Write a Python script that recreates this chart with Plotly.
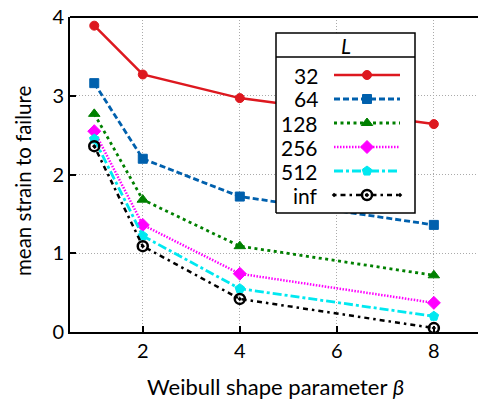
import plotly.graph_objects as go

beta = [1, 2, 4, 8]
series_names = ["32", "64", "128", "256", "512", "inf"]
v32 = [3.89, 3.27, 2.97, 2.64]
v64 = [3.16, 2.20, 1.72, 1.36]
v128 = [2.77, 1.68, 1.09, 0.72]
v256 = [2.55, 1.36, 0.74, 0.37]
v512 = [2.45, 1.22, 0.55, 0.20]
vinf = [2.36, 1.09, 0.42, 0.05]
values = [v32, v64, v128, v256, v512, vinf]
x_ticks = [2, 4, 6, 8]
y_ticks = [0, 1, 2, 3, 4]

FONT = "Lato, 'DejaVu Sans', sans-serif"
W, H = 478, 400
L, R, T, B = 70, 0, 17, 68
PW, PH = W - L - R, H - T - B

styles = [
    dict(color="#dd181f", dash="solid", symbol="circle", size=9, width=2.5),
    dict(color="#0060ad", dash="6px,3px", symbol="square", size=9, width=2.8),
    dict(color="#008000", dash="3px,3.5px", symbol="triangle-up", size=10, width=2.8),
    dict(color="#ff00ff", dash="1.5px,1.5px", symbol="diamond", size=10, width=2.5),
    dict(color="#00e8f0", dash="9px,3px,3px,3px", symbol="pentagon", size=10, width=2.8),
    dict(color="#000000", dash="2.5px,4px,5px,4px", symbol="circle-open-dot", size=10, width=2.5),
]

def px(x):
    return (x - L) / PW

def py(y):
    return (H - B - y) / PH

def marker_for(st, size):
    mk = dict(symbol=st["symbol"], size=size, color=st["color"], opacity=1)
    if st["symbol"] == "circle-open-dot":
        mk["line"] = dict(width=2.5, color=st["color"])
    else:
        mk["line"] = dict(width=1, color=st["color"])
    return mk

fig = go.Figure()
for name, vals, st in zip(series_names, values, styles):
    fig.add_trace(go.Scatter(
        x=beta, y=vals, mode="lines+markers", name=name,
        line=dict(color=st["color"], dash=st["dash"], width=st["width"]),
        marker=marker_for(st, st["size"]), showlegend=False))

# legend box on overlay axes
bx0, bx1, by0, by1 = px(276), px(415), py(213), py(33)
fig.add_trace(go.Scatter(x=[bx0, bx1, bx1, bx0, bx0], y=[by0, by0, by1, by1, by0],
                         xaxis="x2", yaxis="y2", mode="lines", fill="toself",
                         fillcolor="white", line=dict(color="black", width=1.5),
                         showlegend=False, hoverinfo="skip"))
sep = py(57)
fig.add_trace(go.Scatter(x=[bx0, bx1], y=[sep, sep], xaxis="x2", yaxis="y2",
                         mode="lines", line=dict(color="black", width=1.5),
                         showlegend=False, hoverinfo="skip"))
row_y = [75, 99, 123, 147, 171, 195]
annotations = []
for name, st, ry in zip(series_names, styles, row_y):
    yy = py(ry)
    fig.add_trace(go.Scatter(x=[px(334), px(367), px(400)], y=[yy, yy, yy],
                             xaxis="x2", yaxis="y2", mode="lines+markers",
                             line=dict(color=st["color"], dash=st["dash"], width=st["width"]),
                             marker=marker_for(st, [0, st["size"], 0]),
                             showlegend=False, hoverinfo="skip"))
    annotations.append(dict(x=px(320), y=yy, xref="paper", yref="paper", text=name,
                            showarrow=False, xanchor="right", yanchor="middle",
                            font=dict(family=FONT, size=21, color="black")))
annotations.append(dict(x=(bx0 + bx1) / 2, y=py(45), xref="paper", yref="paper",
                        text="<i>L</i>", showarrow=False, xanchor="center", yanchor="middle",
                        font=dict(family=FONT, size=21, color="black")))
annotations.append(dict(x=px(275), y=py(386), xref="paper", yref="paper",
                        text="Weibull shape parameter <i>β</i>", showarrow=False,
                        xanchor="center", yanchor="middle",
                        font=dict(family=FONT, size=22, color="black")))
annotations.append(dict(x=px(23), y=py(181), xref="paper", yref="paper",
                        text="mean strain to failure", showarrow=False, textangle=-90,
                        xanchor="center", yanchor="middle",
                        font=dict(family=FONT, size=20.5, color="black")))

axis_common = dict(showgrid=True, gridcolor="#aaaaaa", griddash="1px,2px", gridwidth=1,
                   showline=True, linecolor="black", linewidth=2, ticks="inside", ticklen=6,
                   tickcolor="black", tickwidth=1.5, zeroline=False,
                   tickfont=dict(family=FONT, size=20))
fig.update_layout(
    width=W, height=H, margin=dict(l=L, r=R, t=T, b=B),
    paper_bgcolor="white", plot_bgcolor="white",
    font=dict(family=FONT, size=20, color="black"),
    xaxis=dict(range=[0.5, 8.91], tickvals=x_ticks, **axis_common),
    yaxis=dict(range=[0, 4], tickvals=y_ticks, **axis_common),
    xaxis2=dict(overlaying="x", range=[0, 1], visible=False, fixedrange=True),
    yaxis2=dict(overlaying="y", range=[0, 1], visible=False, fixedrange=True),
    annotations=annotations,
    shapes=[dict(type="line", xref="paper", yref="paper", x0=0, x1=1, y0=1, y1=1,
                 line=dict(color="black", width=2))],
    showlegend=False,
)
fig.write_html("out.html", config={"displayModeBar": False},
               post_script="document.body.style.margin='0';document.body.style.overflow='hidden';")
